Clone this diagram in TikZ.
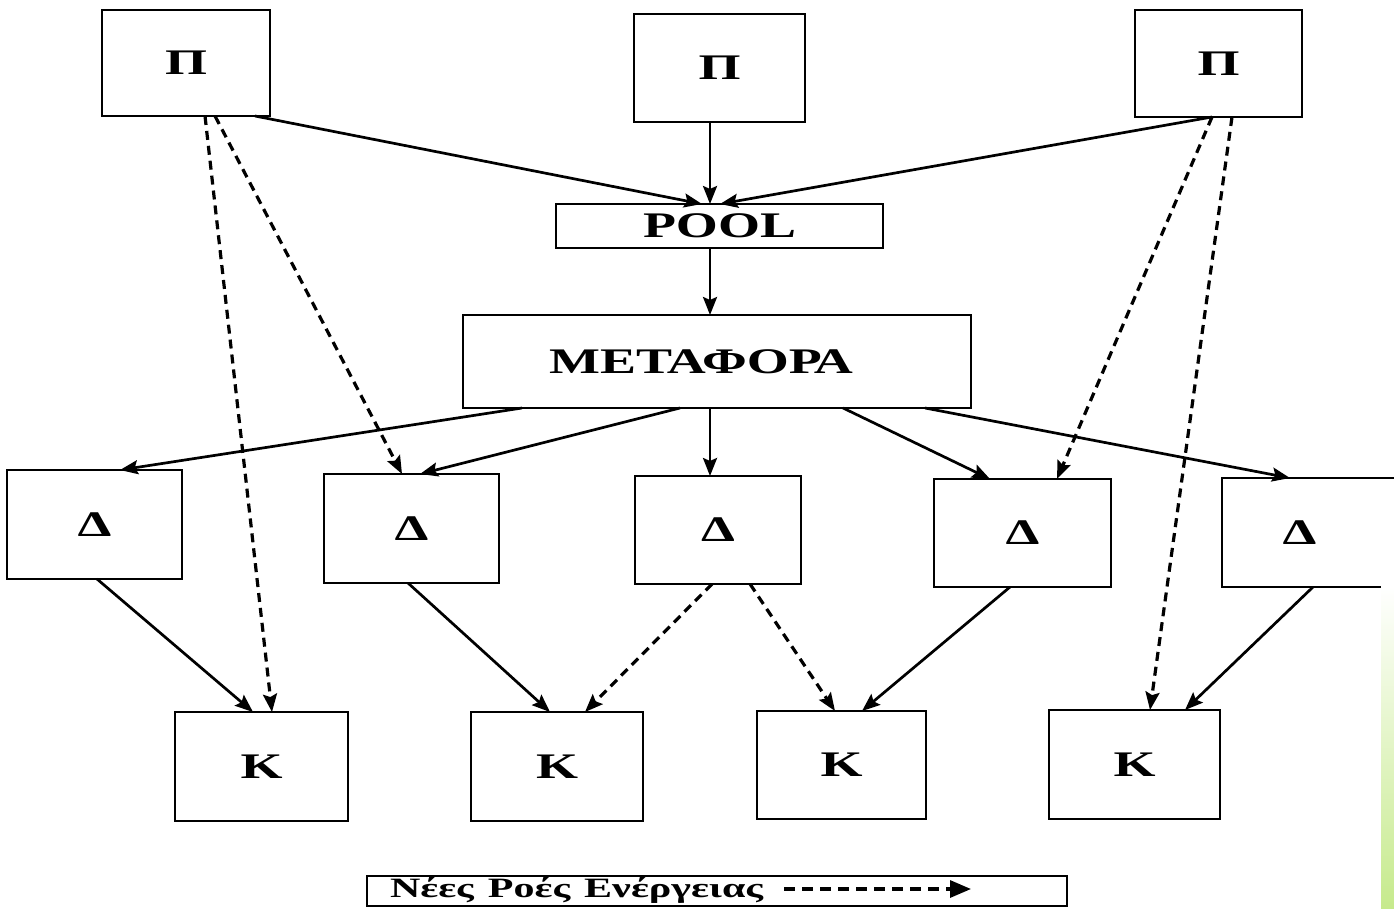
\documentclass[tikz,border=0pt]{standalone}
\usepackage{fontspec}
\setmainfont{Liberation Serif}[FakeStretch=1.5]
\usetikzlibrary{arrows.meta}
\definecolor{stripgreen}{RGB}{198,234,140}
\begin{document}
\begin{tikzpicture}[x=1pt,y=-1pt,
  box/.style={draw, line width=2.8pt, rectangle, inner sep=0pt, outer sep=0pt,
    font=\bfseries\fontsize{36}{40}\selectfont, text=black},
  flow/.style={line width=2.7pt, -{Stealth[length=18pt,width=14pt,inset=3pt]}},
  newflow/.style={line width=3.2pt, dash pattern=on 9pt off 6pt,
    -{Stealth[length=18pt,width=14pt,inset=3pt]}},
]
\useasboundingbox (0,0) rectangle (1394,909);
\clip (0,0) rectangle (1394,909);
\fill[white] (0,0) rectangle (1394,909);

% producers
\node[box, minimum width=168pt, minimum height=106pt] (P1) at (186,63) {Π};
\node[box, minimum width=171pt, minimum height=108pt] (P2) at (719.5,68) {Π};
\node[box, minimum width=167pt, minimum height=107pt] (P3) at (1218.5,63.5) {Π};
% pool and transport
\node[box, minimum width=327pt, minimum height=44pt] (POOL) at (719.5,226) {POOL};
\node[box, minimum width=508pt, minimum height=93pt] (MET) at (717,361.5) {\hspace*{-32pt}ΜΕΤΑΦΟΡΑ};
% distribution
\node[box, minimum width=175pt, minimum height=109pt] (D1) at (94.5,524.5) {Δ};
\node[box, minimum width=175pt, minimum height=109pt] (D2) at (411.5,528.5) {Δ};
\node[box, minimum width=166pt, minimum height=108pt] (D3) at (718,530) {Δ};
\node[box, minimum width=177pt, minimum height=108pt] (D4) at (1022.5,533) {Δ};
\node[box, minimum width=175pt, minimum height=109pt] (D5) at (1309.5,532.5) {\hspace*{-20pt}Δ};
% consumers
\node[box, minimum width=173pt, minimum height=109pt] (K1) at (261.5,766.5) {Κ};
\node[box, minimum width=172pt, minimum height=109pt] (K2) at (557,766.5) {Κ};
\node[box, minimum width=169pt, minimum height=108pt] (K3) at (841.5,765) {Κ};
\node[box, minimum width=171pt, minimum height=109pt] (K4) at (1134.5,764.5) {Κ};

% solid flows
\draw[flow] ([xshift=153pt]P1.south west) -- ([xshift=146pt]POOL.north west);
\draw[flow] ([xshift=76pt]P2.south west) -- ([xshift=154pt]POOL.north west);
\draw[flow] ([xshift=77pt]P3.south west) -- ([xshift=164pt]POOL.north west);
\draw[flow] ([xshift=154pt]POOL.south west) -- ([xshift=247pt]MET.north west);
\draw[flow] ([xshift=59pt]MET.south west) -- ([xshift=113pt]D1.north west);
\draw[flow] ([xshift=217pt]MET.south west) -- ([xshift=96pt]D2.north west);
\draw[flow] ([xshift=247pt]MET.south west) -- ([xshift=75pt]D3.north west);
\draw[flow] ([xshift=380pt]MET.south west) -- ([xshift=56pt]D4.north west);
\draw[flow] ([xshift=462pt]MET.south west) -- ([xshift=68pt]D5.north west);
\draw[flow] ([xshift=90pt]D1.south west) -- ([xshift=78pt]K1.north west);
\draw[flow] ([xshift=84pt]D2.south west) -- ([xshift=79pt]K2.north west);
\draw[flow] ([xshift=76pt]D4.south west) -- ([xshift=105pt]K3.north west);
\draw[flow] ([xshift=91pt]D5.south west) -- ([xshift=136pt]K4.north west);

% new (dashed) flows
\draw[newflow] ([xshift=103pt]P1.south west) -- ([xshift=97pt]K1.north west);
\draw[newflow] ([xshift=113pt]P1.south west) -- ([xshift=78pt]D2.north west);
\draw[newflow] ([xshift=77pt]P3.south west) -- ([xshift=123pt]D4.north west);
\draw[newflow] ([xshift=97pt]P3.south west) -- ([xshift=101pt]K4.north west);
\draw[newflow] ([xshift=77pt]D3.south west) -- ([xshift=114pt]K2.north west);
\draw[newflow] ([xshift=115pt]D3.south west) -- ([xshift=78pt]K3.north west);

% legend
\node[draw, line width=2.4pt, inner xsep=23pt, inner ysep=0pt, outer sep=0pt,
  text width=654pt, align=left, text height=21pt, text depth=9pt,
  font=\bfseries\fontsize{28}{30}\selectfont] (L) at (717,891) {Νέες\, Ροές\, Ενέργειας};
\coordinate (la) at ([xshift=417pt,yshift=2pt]L.west);
\coordinate (lb) at ([xshift=604pt,yshift=2pt]L.west);
\draw[line width=3.2pt, dash pattern=on 11pt off 7pt,
  -{Triangle[length=21pt,width=17pt]}] (la) -- (lb);

% green edge strip
\shade[top color=white, bottom color=stripgreen] (1381,586) rectangle (1394,909);
\end{tikzpicture}
\end{document}
